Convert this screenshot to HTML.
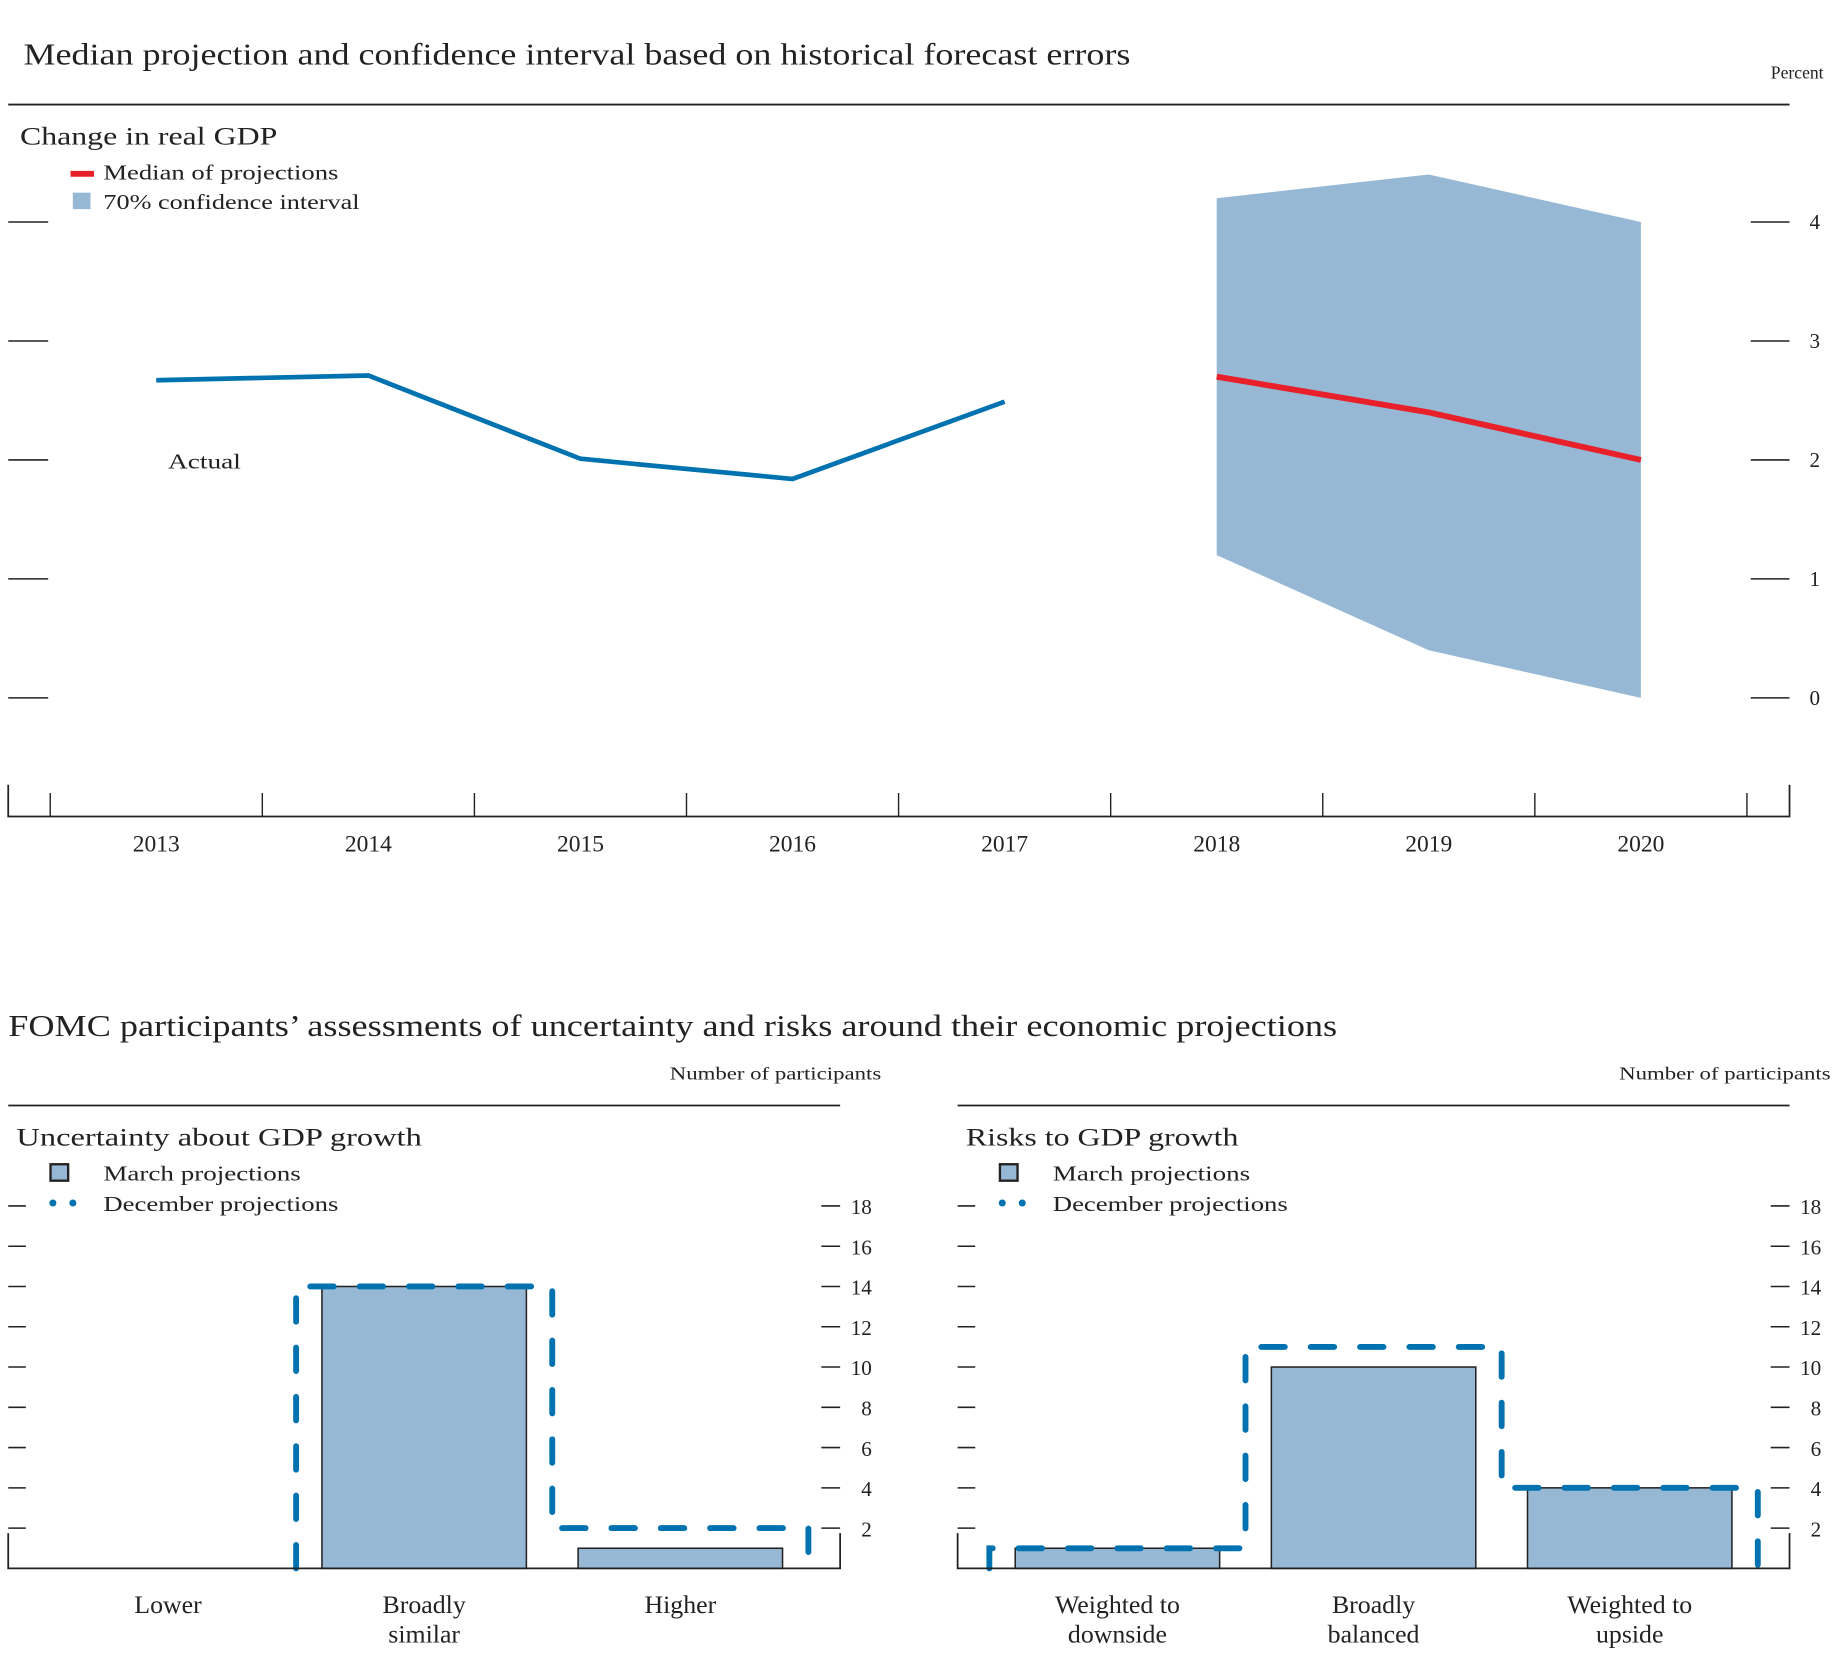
<!DOCTYPE html>
<html><head><meta charset="utf-8"><style>
html,body{margin:0;padding:0;background:#fff;}
svg{display:block;font-family:"Liberation Serif",serif;}
</style></head><body>
<svg id="c" width="1833" height="1680" viewBox="0 0 1560 1430" preserveAspectRatio="none" xmlns="http://www.w3.org/2000/svg">
<text x="20" y="55" font-size="26" fill="#222" textLength="942" lengthAdjust="spacingAndGlyphs">Median projection and confidence interval based on historical forecast errors</text>
<text x="1552" y="67" font-size="15" text-anchor="end" fill="#222">Percent</text>
<line x1="7" y1="89" x2="1523" y2="89" stroke="#222" stroke-width="1.5"/>
<text x="17" y="123" font-size="22" fill="#222" textLength="219" lengthAdjust="spacingAndGlyphs">Change in real GDP</text>
<line x1="60" y1="148" x2="80" y2="148" stroke="#e8202a" stroke-width="5"/>
<text x="88" y="153" font-size="18" fill="#222" textLength="200" lengthAdjust="spacingAndGlyphs">Median of projections</text>
<rect x="62" y="164" width="15" height="14" fill="#97b8d5"/>
<text x="88" y="178" font-size="18" fill="#222" textLength="218" lengthAdjust="spacingAndGlyphs">70% confidence interval</text>
<text x="143" y="399" font-size="18" fill="#222" textLength="62" lengthAdjust="spacingAndGlyphs">Actual</text>
<g id="topg"></g>
<text x="7" y="882" font-size="26" fill="#222" textLength="1131" lengthAdjust="spacingAndGlyphs">FOMC participants’ assessments of uncertainty and risks around their economic projections</text>
<g id="pl"></g><g id="pr"></g>
</svg>
<script>
const NS='http://www.w3.org/2000/svg';
function mk(p,t,a){const e=document.createElementNS(NS,t);for(const k in a)e.setAttribute(k,a[k]);p.appendChild(e);return e;}

// Top chart data
const years=['2013','2014','2015','2016','2017','2018','2019','2020'];
const actualVals=[2.67,2.71,2.01,1.84,2.49];
const medianVals=[2.7,2.4,2.0];
const ciUpper=[4.2,4.4,4.0];
const ciLower=[1.2,0.4,0.0];
const yTicks=[0,1,2,3,4];

const topG=document.getElementById('topg');
const X=i=>133+i*180.5;
const Y=v=>594-v*101.25;
yTicks.forEach(v=>{
  let l=mk(topG,'line',{x1:7,x2:41,y1:Y(v),y2:Y(v),stroke:'#222','stroke-width':1.3});
  
  
  let r=mk(topG,'line',{x1:1490,x2:1523,y1:Y(v),y2:Y(v),stroke:'#222','stroke-width':1.3});
  
  
  let t=mk(topG,'text',{x:1540,y:Y(v)+6,'font-size':18,fill:'#222'});t.textContent=v;
  
  
});
let ax=mk(topG,'path',{d:'M7 668V695H1523V668',fill:'none',stroke:'#222','stroke-width':1.5});


for(let i=0;i<=years.length;i++){
  let xx=X(i)-90.25;
  let tk=mk(topG,'line',{x1:xx,x2:xx,y1:675,y2:695,stroke:'#222','stroke-width':1.2});
  
  
}
years.forEach((y,i)=>{
  let t=mk(topG,'text',{x:X(i),y:725,'font-size':20,'text-anchor':'middle',fill:'#222'});t.textContent=y;
  
  
});
let pts=ciUpper.map((v,i)=>X(5+i)+','+Y(v)).concat(ciLower.map((v,i)=>X(5+i)+','+Y(v)).reverse());
let ci=mk(topG,'polygon',{points:pts.join(' '),fill:'#97b8d5'});


let al=mk(topG,'polyline',{points:actualVals.map((v,i)=>X(i)+','+Y(v)).join(' '),fill:'none',stroke:'#0072b0','stroke-width':4});


let ml=mk(topG,'polyline',{points:medianVals.map((v,i)=>X(5+i)+','+Y(v)).join(' '),fill:'none',stroke:'#e8202a','stroke-width':5});



// Bottom panels data
const catsLeft=[['Lower'],['Broadly','similar'],['Higher']];
const marchLeft=[0,14,1];
const decLeft=[0,14,2];
const catsRight=[['Weighted to','downside'],['Broadly','balanced'],['Weighted to','upside']];
const marchRight=[1,10,4];
const decRight=[1,11,4];
const barTicks=[2,4,6,8,10,12,14,16,18];

function panel(g,off,title,titleLen,cats,march,dec){
  const Yb=v=>1335-v*17.14;
  const C=i=>off+143+i*218;
  let t;
  t=mk(g,'text',{x:off+750,y:919,'font-size':15,'text-anchor':'end',fill:'#222',textLength:180,lengthAdjust:'spacingAndGlyphs'});t.textContent='Number of participants';
  
  
  let rl=mk(g,'line',{x1:off+7,x2:off+715,y1:941,y2:941,stroke:'#222','stroke-width':1.5});
  
  
  t=mk(g,'text',{x:off+14,y:975,'font-size':22,fill:'#222',textLength:titleLen,lengthAdjust:'spacingAndGlyphs'});t.textContent=title;
  
  
  let sw=mk(g,'rect',{x:off+43,y:991,width:15,height:14,fill:'#97b8d5',stroke:'#222','stroke-width':2});
  
  
  t=mk(g,'text',{x:off+88,y:1005,'font-size':18,fill:'#222',textLength:168,lengthAdjust:'spacingAndGlyphs'});t.textContent='March projections';
  
  
  let ds=mk(g,'line',{x1:off+45,x2:off+63,y1:1024,y2:1024,stroke:'#0072b0','stroke-width':6,'stroke-linecap':'round','stroke-dasharray':'0 17'});
  
  
  t=mk(g,'text',{x:off+88,y:1031,'font-size':18,fill:'#222',textLength:200,lengthAdjust:'spacingAndGlyphs'});t.textContent='December projections';
  
  
  barTicks.forEach(v=>{
    let a=mk(g,'line',{x1:off+7,x2:off+22,y1:Yb(v),y2:Yb(v),stroke:'#222','stroke-width':1.3});
    
    
    let b=mk(g,'line',{x1:off+699,x2:off+715,y1:Yb(v),y2:Yb(v),stroke:'#222','stroke-width':1.3});
    
    
    let l=mk(g,'text',{x:off+742,y:Yb(v)+7,'font-size':18,'text-anchor':'end',fill:'#222'});l.textContent=v;
    
    
  });
  march.forEach((v,i)=>{
    if(v<=0)return;
    let r=mk(g,'rect',{x:C(i)-87,y:Yb(v),width:174,height:Yb(0)-Yb(v),fill:'#97b8d5',stroke:'#222','stroke-width':1.3});
    
    
  });
  let d='';
  dec.forEach((v,i)=>{
    const x0=C(i)-109,x1=C(i)+109;
    if(v<=0)return;
    const prev=i>0?dec[i-1]:0;
    if(i===0||prev<=0)d+='M'+x0+' '+Yb(0);
    d+='L'+x0+' '+Yb(v)+'L'+x1+' '+Yb(v);
    if(i===dec.length-1)d+='L'+x1+' '+Yb(0);
  });
  let dp=mk(g,'path',{d:d,fill:'none',stroke:'#0072b0','stroke-width':5,'stroke-dasharray':'20 22','stroke-linecap':'round'});
  
  
  let ax=mk(g,'path',{d:`M${off+7} 1305V1335H${off+715}V1305`,fill:'none',stroke:'#222','stroke-width':1.5});
  
  
  cats.forEach((c,i)=>{
    c.forEach((line,j)=>{
      let tx=mk(g,'text',{x:C(i),y:1373+j*25,'font-size':22,'text-anchor':'middle',fill:'#222'});tx.textContent=line;
      
      
    });
  });
}
panel(document.getElementById('pl'),0,'Uncertainty about GDP growth',345,catsLeft,marchLeft,decLeft);
panel(document.getElementById('pr'),808,'Risks to GDP growth',232,catsRight,marchRight,decRight);
</script>
</body></html>
